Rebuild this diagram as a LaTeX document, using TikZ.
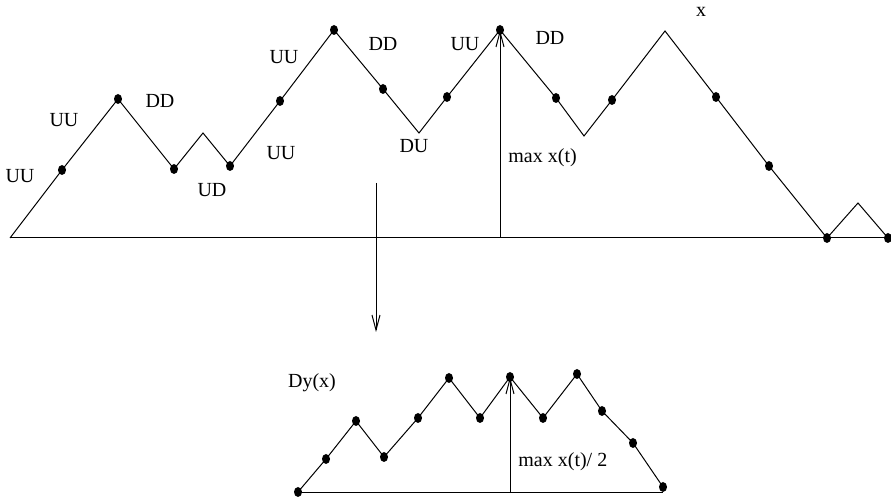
\documentclass[tikz,border=0pt]{standalone}
\usepackage{fontspec}
\setmainfont{Liberation Serif}
\usetikzlibrary{arrows.meta,shapes.geometric}
\begin{document}
\begin{tikzpicture}[x=0.5pt,y=-0.5pt,
  walk/.style={line width=0.5pt,line join=miter},
  dot/.style={ellipse,fill=black,inner sep=0pt,minimum width=4pt,minimum height=5pt},
  lbl/.style={inner sep=0pt,font=\fontsize{10}{12}\selectfont},
  stick/.style={line width=0.5pt,-{Straight Barb[length=7.5pt,width=4pt,line width=0.5pt]}}]
\useasboundingbox (0,0) rectangle (891,502);

% ---- upper walk x ----
\coordinate (p0) at (10,238);
\coordinate (p1) at (62,170);
\coordinate (p2) at (118,99);
\coordinate (p3) at (174,169);
\coordinate (p4) at (203,133);
\coordinate (p5) at (230,166);
\coordinate (p6) at (280,101);
\coordinate (p7) at (334,30);
\coordinate (p8) at (383,89);
\coordinate (p9) at (419,133);
\coordinate (p10) at (447,97);
\coordinate (p11) at (500,30);
\coordinate (p12) at (556,98);
\coordinate (p13) at (584,136);
\coordinate (p14) at (612,100);
\coordinate (p15) at (665,31);
\coordinate (p16) at (716,97);
\coordinate (p17) at (769,166);
\coordinate (p18) at (827,238);
\coordinate (p19) at (858,203);
\coordinate (p20) at (888,238);
\coordinate (bl) at (10,238);
\coordinate (br) at (891,238);
\coordinate (mb) at (500,238);

\draw[walk] (bl) -- (br);
\draw[walk] (p0) -- (p1) -- (p2) -- (p3) -- (p4) -- (p5) -- (p6) -- (p7) -- (p8)
  -- (p9) -- (p10) -- (p11) -- (p12) -- (p13) -- (p14) -- (p15) -- (p16) -- (p17)
  -- (p18) -- (p19) -- (p20);
\foreach \i in {1,2,3,5,6,7,8,10,11,12,14,16,17,18,20}
  \node[dot] (d\i) at (p\i) {};
\draw[stick] (mb) -- (p11);

\node[lbl] (u1) at (20,176) {UU};
\node[lbl] (u2) at (64,120) {UU};
\node[lbl] (dd1) at (160,101) {DD};
\node[lbl] (ud) at (212,190) {UD};
\node[lbl] (u3) at (281,153) {UU};
\node[lbl] (u4) at (284,57) {UU};
\node[lbl] (dd2) at (383,44) {DD};
\node[lbl] (du) at (414,146) {DU};
\node[lbl] (u5) at (465,44) {UU};
\node[lbl] (dd3) at (550,38) {DD};
\node[lbl,anchor=west] (mx) at (508,158) {max x(t)};
\node[lbl] (xl) at (701,12) {x};

% ---- mapping arrow ----
\coordinate (ds) at (376,183);
\coordinate (de) at (376,332);
\draw[stick] (ds) -- (de);

% ---- lower walk Dy(x) ----
\coordinate (q0) at (298,492);
\coordinate (q1) at (326,459);
\coordinate (q2) at (356,421);
\coordinate (q3) at (384,457);
\coordinate (q4) at (418,418);
\coordinate (q5) at (449,378);
\coordinate (q6) at (480,418);
\coordinate (q7) at (510,377);
\coordinate (q8) at (543,418);
\coordinate (q9) at (577,374);
\coordinate (q10) at (602,411);
\coordinate (q11) at (633,443);
\coordinate (q12) at (663,487);
\coordinate (cl) at (298,493);
\coordinate (cr) at (663,493);
\coordinate (mc) at (510,493);

\draw[walk] (cl) -- (cr);
\draw[walk] (q0) -- (q1) -- (q2) -- (q3) -- (q4) -- (q5) -- (q6) -- (q7) -- (q8)
  -- (q9) -- (q10) -- (q11) -- (q12);
\foreach \i in {0,...,12}
  \node[dot] (e\i) at (q\i) {};
\draw[stick] (mc) -- (q7);

\node[lbl] (dy) at (312,383) {Dy(x)};
\node[lbl,anchor=west] (mx2) at (518,462) {max x(t)/ 2};
\end{tikzpicture}
\end{document}
